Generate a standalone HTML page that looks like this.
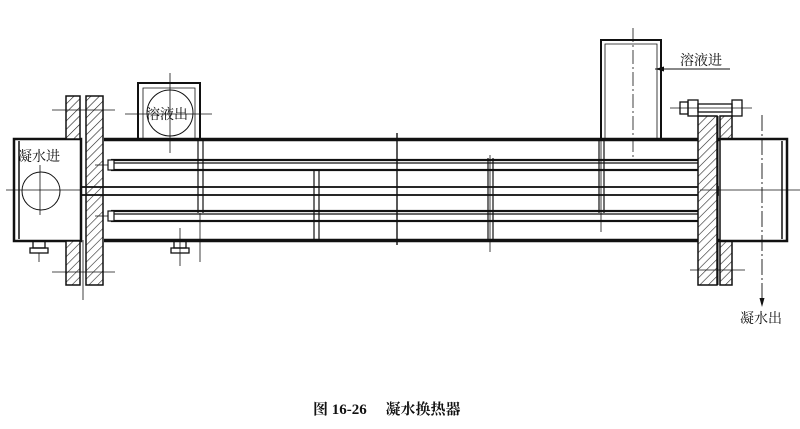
<!DOCTYPE html>
<html><head><meta charset="utf-8"><style>
html,body{margin:0;padding:0;background:#fff;width:800px;height:429px;overflow:hidden}
text{font-family:"Liberation Serif","Noto Serif CJK SC","Noto Sans CJK SC",serif;fill:#111}
</style></head><body>
<svg width="800" height="429" viewBox="0 0 800 429" xmlns="http://www.w3.org/2000/svg">
<defs>
<pattern id="h" width="6" height="6" patternUnits="userSpaceOnUse" patternTransform="rotate(45)">
<rect width="6" height="6" fill="#fff"/><line x1="0" y1="0" x2="0" y2="6" stroke="#222" stroke-width="1.2"/>
</pattern>
</defs>
<g stroke="#111" fill="none">
<line x1="104" y1="139.5" x2="720" y2="139.5" stroke-width="3.5"/>
<line x1="104" y1="240.5" x2="720" y2="240.5" stroke-width="3.5"/>
<rect x="14" y="139" width="67" height="102" stroke-width="2.5"/>
<line x1="19" y1="141" x2="19" y2="239" stroke-width="1.5"/>
<circle cx="41" cy="191" r="19" stroke-width="1"/>
<line x1="6" y1="190" x2="80" y2="190" stroke-width="0.8"/>
<line x1="40" y1="165" x2="40" y2="215" stroke-width="0.8"/>
<rect x="66" y="96" width="14" height="43" fill="url(#h)" stroke-width="1.5"/>
<rect x="66" y="241" width="14" height="44" fill="url(#h)" stroke-width="1.5"/>
<rect x="86" y="96" width="17" height="189" fill="url(#h)" stroke-width="1.5"/>
<line x1="52" y1="110" x2="115" y2="110" stroke-width="0.8"/>
<line x1="52" y1="272" x2="115" y2="272" stroke-width="0.8"/>
<line x1="83" y1="240" x2="83" y2="300" stroke-width="0.8"/>
<rect x="33" y="241" width="12" height="7" stroke-width="1.3"/>
<rect x="30" y="248" width="18" height="5" stroke-width="1.3"/>
<line x1="39" y1="253" x2="39" y2="262" stroke-width="0.8"/>
<rect x="174" y="241" width="12" height="7" stroke-width="1.3"/>
<rect x="171" y="248" width="18" height="5" stroke-width="1.3"/>
<line x1="180" y1="228" x2="180" y2="266" stroke-width="0.8"/>
<path d="M138 139 V83 H200 V139" stroke-width="2"/>
<path d="M143 139 V88 H195 V139" stroke-width="0.8"/>
<circle cx="170" cy="113" r="23" stroke-width="1"/>
<line x1="170" y1="73" x2="170" y2="153" stroke-width="0.8"/>
<line x1="125" y1="114" x2="212" y2="114" stroke-width="0.8"/>
<rect x="112" y="160" width="600" height="10" stroke-width="2.2"/>
<line x1="112" y1="163" x2="712" y2="163" stroke-width="1.2"/>
<rect x="112" y="211" width="600" height="10" stroke-width="2.2"/>
<line x1="112" y1="214" x2="712" y2="214" stroke-width="1.2"/>
<rect x="81" y="187" width="637" height="8" stroke-width="1.8"/>
<line x1="95" y1="165" x2="112" y2="165" stroke-width="0.8"/>
<line x1="95" y1="216" x2="112" y2="216" stroke-width="0.8"/>
<rect x="108" y="160" width="6" height="10" fill="#fff" stroke-width="1.2"/>
<rect x="108" y="211" width="6" height="10" fill="#fff" stroke-width="1.2"/>
<path d="M198 139 V213 M203 139 V213" stroke-width="1.2"/>
<line x1="200" y1="213" x2="200" y2="262" stroke-width="0.8"/>
<path d="M314 170 V240 M319 170 V240" stroke-width="1.2"/>
<line x1="397" y1="133" x2="397" y2="245" stroke-width="1.4"/>
<path d="M488 158 V240 M493 158 V240" stroke-width="1.2"/>
<line x1="490" y1="155" x2="490" y2="252" stroke-width="0.8"/>
<path d="M599 139 V213 M604 139 V213" stroke-width="1.2"/>
<line x1="601" y1="125" x2="601" y2="232" stroke-width="0.8"/>
<path d="M601 139 V40 H661 V139" stroke-width="2"/>
<path d="M605 139 V44 H657 V139" stroke-width="0.8"/>
<line x1="633" y1="28" x2="633" y2="158" stroke-width="0.8" stroke-dasharray="14 3 2 3"/>
<rect x="698" y="116" width="19" height="169" fill="url(#h)" stroke-width="1.5"/>
<rect x="720" y="116" width="12" height="23" fill="url(#h)" stroke-width="1.5"/>
<rect x="720" y="241" width="12" height="44" fill="url(#h)" stroke-width="1.5"/>
<line x1="718" y1="116" x2="718" y2="285" stroke-width="1"/>
<line x1="690" y1="270" x2="745" y2="270" stroke-width="0.8"/>
<rect x="680" y="102" width="8" height="12" stroke-width="1.3"/>
<rect x="688" y="100" width="10" height="16" stroke-width="1.3"/>
<rect x="698" y="104" width="34" height="8" stroke-width="1.3"/>
<rect x="732" y="100" width="10" height="16" stroke-width="1.3"/>
<line x1="670" y1="108" x2="752" y2="108" stroke-width="0.8"/>
<path d="M720 139 H787 V241 H720" stroke-width="2.5"/>
<line x1="782" y1="141" x2="782" y2="239" stroke-width="1.5"/>
<line x1="720" y1="139" x2="720" y2="241" stroke-width="1.5"/>
<line x1="762" y1="115" x2="762" y2="300" stroke-width="0.9" stroke-dasharray="16 3 2 3"/>
<line x1="700" y1="190" x2="800" y2="190" stroke-width="0.8"/>
<line x1="675" y1="69" x2="730" y2="69" stroke-width="1"/>
<line x1="655" y1="69" x2="675" y2="69" stroke-width="1"/>
</g>
<polygon points="655,69 664,66.5 664,71.5" fill="#111"/>
<polygon points="762,307 759.5,298 764.5,298" fill="#111"/>
<text x="680" y="65" font-size="14">溶液进</text>
<text x="146" y="119" font-size="14">溶液出</text>
<text x="18" y="161" font-size="14">凝水进</text>
<text x="740" y="323" font-size="14">凝水出</text>
<text x="313" y="414" font-size="15" font-weight="bold">图 16-26　 凝水换热器</text>
</svg>
</body></html>
